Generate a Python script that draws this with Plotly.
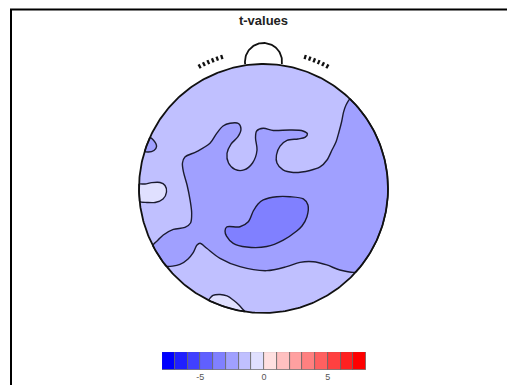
import numpy as np
import plotly.graph_objects as go

# ---- colour scale: 16 bins of width 1 from -8 to 8 ----
BIN_EDGES = list(range(-8, 9))
BIN_COLORS = [
    "rgb(0,0,255)", "rgb(32,32,255)", "rgb(64,64,255)", "rgb(96,96,255)",
    "rgb(128,128,255)", "rgb(160,160,255)", "rgb(192,192,255)", "rgb(224,224,255)",
    "rgb(255,224,224)", "rgb(255,192,192)", "rgb(255,160,160)", "rgb(255,128,128)",
    "rgb(255,96,96)", "rgb(255,64,64)", "rgb(255,32,32)", "rgb(255,0,0)",
]
CBAR_TICKS = [-5, 0, 5]

# ---- t-value level of each map region ----
LEVEL_BACKGROUND = -1.5
LEVEL_CENTRAL = -2.5
LEVEL_PEAK = -3.5
LEVEL_LEFT_SPOT = -2.5
LEVEL_LEFT_OVAL = -0.5
LEVEL_BOTTOM_SPOT = -0.5

# ---- iso-lines (head coordinates, radius 1) ----
# central region: rim angles where its borders meet the head outline
CENTRAL_RIM_DEG = [46.0, -42.2, -141.4, -152.8]
# central region: upper border, from the lower-left rim to the upper-right rim
CENTRAL_UPPER_X = [-0.847, -0.805, -0.724, -0.631, -0.586, -0.577, -0.590, -0.614, -0.643,
                   -0.651, -0.631, -0.537, -0.430, -0.376, -0.325, -0.269, -0.201, -0.181,
                   -0.205, -0.261, -0.293, -0.281, -0.229, -0.157, -0.088, -0.052, -0.064,
                   -0.055, -0.002, 0.079, 0.213, 0.317, 0.353, 0.333, 0.277, 0.189, 0.133,
                   0.104, 0.108, 0.157, 0.239, 0.373, 0.454, 0.510, 0.550, 0.582, 0.606,
                   0.627, 0.643, 0.663]
CENTRAL_UPPER_Y = [-0.414, -0.373, -0.328, -0.313, -0.277, -0.197, -0.092, 0.028, 0.133,
                   0.205, 0.253, 0.296, 0.363, 0.443, 0.502, 0.524, 0.522, 0.478,
                   0.416, 0.357, 0.283, 0.205, 0.153, 0.149, 0.205, 0.309, 0.406,
                   0.462, 0.484, 0.466, 0.470, 0.462, 0.438, 0.410, 0.398, 0.386, 0.341,
                   0.269, 0.205, 0.149, 0.129, 0.145, 0.173, 0.229, 0.309, 0.373, 0.454,
                   0.534, 0.614, 0.671]
# central region: lower border, right to left
CENTRAL_LOWER_X = [0.614, 0.508, 0.400, 0.293, 0.186, 0.026, -0.189, -0.349, -0.456,
                   -0.510, -0.534, -0.566, -0.606, -0.671]
CENTRAL_LOWER_Y = [-0.655, -0.614, -0.588, -0.593, -0.628, -0.660, -0.628, -0.561, -0.480,
                   -0.440, -0.454, -0.518, -0.566, -0.610]

PEAK_X = [-0.296, -0.189, -0.122, -0.082, -0.044, -0.002, 0.106, 0.213, 0.320, 0.357,
          0.349, 0.309, 0.267, 0.159, 0.026, -0.135, -0.243, -0.297, -0.309]
PEAK_Y = [-0.309, -0.307, -0.267, -0.181, -0.124, -0.092, -0.066, -0.066, -0.084, -0.133,
          -0.227, -0.301, -0.341, -0.414, -0.466, -0.470, -0.440, -0.382, -0.341]

LEFT_SPOT_RIM_DEG = [156.0, 162.5]
LEFT_SPOT_X = [-0.885, -0.859, -0.880, -0.928]
LEFT_SPOT_Y = [0.390, 0.337, 0.305, 0.293]

LEFT_OVAL_RIM_DEG = [186.0, 178.0]
LEFT_OVAL_X = [-0.952, -0.898, -0.831, -0.791, -0.779, -0.807, -0.871, -0.936]
LEFT_OVAL_Y = [0.036, 0.047, 0.048, 0.024, -0.028, -0.084, -0.112, -0.112]

BOTTOM_SPOT_RIM_DEG = [-116.0, -98.6]
BOTTOM_SPOT_X = [-0.406, -0.349, -0.293, -0.243, -0.197, -0.165]
BOTTOM_SPOT_Y = [-0.859, -0.851, -0.863, -0.896, -0.936, -0.972]

# ear markers: angles of the short radial ticks on each side
EAR_LEFT_DEG = [107.6, 109.6, 111.6, 113.6, 115.6, 117.6]
EAR_RIGHT_DEG = [180.0 - a for a in EAR_LEFT_DEG]

LINE_COLOR = "#1b1b30"

W, H = 507, 385
CX, CY, R = 263.5, 188.5, 124.5          # head centre and radius in page pixels
X_RANGE = [-CX / R, (W - CX) / R]
Y_RANGE = [(CY - H) / R, CY / R]


def level_color(t):
    i = int(np.floor(t)) - BIN_EDGES[0]
    return BIN_COLORS[i]


def arc(a0, a1, n=60, r=1.0):
    a = np.radians(np.linspace(a0, a1, n))
    return list(r * np.cos(a)), list(r * np.sin(a))


def region(xs, ys, level, lw=1.4):
    return go.Scatter(
        x=xs, y=ys, mode="lines", fill="toself",
        fillcolor=level_color(level),
        line=dict(color=LINE_COLOR, width=lw, shape="spline", smoothing=0.9),
        hoverinfo="skip", showlegend=False, xaxis="x", yaxis="y",
    )


fig = go.Figure()

# figure frame (top and left edges), drawn inside the head axes so it is clipped to the page
fx = (11 - CX) / R
fy = (CY - 9.5) / R
fig.add_trace(go.Scatter(x=[fx, fx, X_RANGE[1] + 1], y=[Y_RANGE[0] - 1, fy, fy], mode="lines",
                         line=dict(color="black", width=2), hoverinfo="skip", showlegend=False))

# background disc
bx, by = arc(0, 360, 361)
fig.add_trace(region(bx, by, LEVEL_BACKGROUND, lw=0))

# central region
a1x, a1y = arc(CENTRAL_RIM_DEG[0], CENTRAL_RIM_DEG[1], 80)
a2x, a2y = arc(CENTRAL_RIM_DEG[2], CENTRAL_RIM_DEG[3], 10)
cx = a1x + CENTRAL_LOWER_X + a2x + CENTRAL_UPPER_X
cy = a1y + CENTRAL_LOWER_Y + a2y + CENTRAL_UPPER_Y
fig.add_trace(region(cx + [cx[0]], cy + [cy[0]], LEVEL_CENTRAL))

# strongest peak
fig.add_trace(region(PEAK_X + [PEAK_X[0]], PEAK_Y + [PEAK_Y[0]], LEVEL_PEAK))

# small left spot
sx, sy = arc(LEFT_SPOT_RIM_DEG[0], LEFT_SPOT_RIM_DEG[1], 8)
px = sx + LEFT_SPOT_X[::-1]
py = sy + LEFT_SPOT_Y[::-1]
fig.add_trace(region(px + [px[0]], py + [py[0]], LEVEL_LEFT_SPOT))

# left oval
ox, oy = arc(LEFT_OVAL_RIM_DEG[0], LEFT_OVAL_RIM_DEG[1], 8)
px = ox + LEFT_OVAL_X
py = oy + LEFT_OVAL_Y
fig.add_trace(region(px + [px[0]], py + [py[0]], LEVEL_LEFT_OVAL))

# bottom spot
ux, uy = arc(BOTTOM_SPOT_RIM_DEG[0], BOTTOM_SPOT_RIM_DEG[1], 14)
px = ux + BOTTOM_SPOT_X[::-1]
py = uy + BOTTOM_SPOT_Y[::-1]
fig.add_trace(region(px + [px[0]], py + [py[0]], LEVEL_BOTTOM_SPOT))

# head outline
fig.add_trace(go.Scatter(x=bx, y=by, mode="lines", line=dict(color="#111111", width=1.8),
                         hoverinfo="skip", showlegend=False))

# nose: arc above the head
nose_r, nose_cy = 0.149, 1.020
t = np.radians(np.linspace(-8, 188, 80))
fig.add_trace(go.Scatter(x=list(nose_r * np.cos(t)), y=list(nose_cy + nose_r * np.sin(t)),
                         mode="lines", line=dict(color="#111111", width=1.8),
                         hoverinfo="skip", showlegend=False))

# ear markers
ex, ey = [], []
for a in EAR_LEFT_DEG + EAR_RIGHT_DEG:
    c, s = np.cos(np.radians(a)), np.sin(np.radians(a))
    ex += [1.09 * c, 1.125 * c, None]
    ey += [1.09 * s, 1.125 * s, None]
fig.add_trace(go.Scatter(x=ex, y=ey, mode="lines", line=dict(color="#111111", width=2.3),
                         hoverinfo="skip", showlegend=False))

# colour bar
centers = [(BIN_EDGES[i] + BIN_EDGES[i + 1]) / 2 for i in range(len(BIN_COLORS))]
fig.add_trace(go.Bar(x=centers, y=[1] * len(centers), width=1, base=0,
                     marker=dict(color=BIN_COLORS, line=dict(color="#666666", width=0.8)),
                     xaxis="x2", yaxis="y2", hoverinfo="skip", showlegend=False))

fig.update_layout(
    width=W, height=H,
    margin=dict(l=0, r=0, t=0, b=0),
    paper_bgcolor="white", plot_bgcolor="white",
    font=dict(family="Liberation Sans, Arial, sans-serif"),
    title=dict(text="<b>t-values</b>", x=CX / W, xanchor="center",
               y=1 - 20 / H, yanchor="middle",
               font=dict(size=13, color="#222222", family="Liberation Sans, Arial, sans-serif")),
    xaxis=dict(range=X_RANGE, domain=[0, 1], visible=False),
    yaxis=dict(range=Y_RANGE, domain=[0, 1], visible=False),
    xaxis2=dict(range=[BIN_EDGES[0], BIN_EDGES[-1]], domain=[162 / W, 366 / W], anchor="y2",
                tickvals=CBAR_TICKS, ticktext=[str(v) for v in CBAR_TICKS], ticks="",
                showgrid=False, zeroline=False, showline=False,
                tickfont=dict(size=9, color="#555555")),
    yaxis2=dict(range=[0, 1], domain=[1 - 370 / H, 1 - 352 / H], anchor="x2", visible=False),
    bargap=0,
)

fig.write_html("out.html")
